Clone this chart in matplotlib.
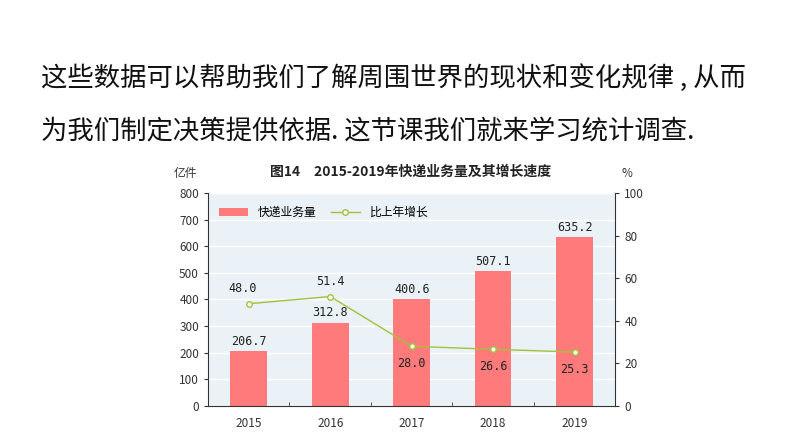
import matplotlib.pyplot as plt
import numpy as np

plt.rcParams['font.family'] = ['Noto Sans CJK SC', 'DejaVu Sans']

years = ['2015', '2016', '2017', '2018', '2019']
volume = [206.7, 312.8, 400.6, 507.1, 635.2]   # 亿件
growth = [48.0, 51.4, 28.0, 26.6, 25.3]        # %
line1 = '这些数据可以帮助我们了解周围世界的现状和变化规律 , 从而'
line2 = '为我们制定决策提供依据. 这节课我们就来学习统计调查.'

bar_color = '#ff7b7b'
line_color = '#a2c23a'

fig = plt.figure(figsize=(7.94, 4.47), dpi=100)
fig.patch.set_facecolor('white')

# heading text above the chart
fig.text(0.052, 0.825, line1, fontsize=19, color='#111111', va='center')
fig.text(0.052, 0.708, line2, fontsize=19, color='#111111', va='center')

ax = fig.add_axes([0.262, 0.092, 0.513, 0.476])
ax.set_facecolor('#eaf2f7')
x = np.arange(len(years))

bars = ax.bar(x, volume, width=0.45, color=bar_color, zorder=2, label='快递业务量')
ax.set_ylim(0, 800)
ax.set_xlim(-0.5, len(years) - 0.5)
ax.set_yticks(range(0, 801, 100))
ax.yaxis.grid(True, color='white', linewidth=1, zorder=0)
ax.set_axisbelow(True)
ax.tick_params(axis='y', labelsize=8.5, length=3, colors='#333333')
ax.set_xticks(x)
ax.set_xticklabels(years)
ax.tick_params(axis='x', labelsize=8.5, length=0, pad=8, colors='#333333')
# small inward ticks between categories
ax.set_xticks(np.arange(0.5, len(years) - 0.5, 1), minor=True)
ax.tick_params(axis='x', which='minor', direction='in', length=3, color='#333333')
for s in ['top', 'right']:
    ax.spines[s].set_visible(False)
for s in ['left', 'bottom']:
    ax.spines[s].set_color('#333333')

for xi, v in zip(x, volume):
    ax.text(xi, v + 12, f'{v:.1f}', ha='center', va='bottom', fontsize=8.5,
            family='DejaVu Sans Mono', color='#222222')

ax2 = ax.twinx()
ax2.set_ylim(0, 100)
ax2.set_yticks(range(0, 101, 20))
ax2.plot(x, growth, color=line_color, linewidth=1, marker='o', markersize=4,
         markerfacecolor='white', markeredgecolor=line_color, label='比上年增长', zorder=3)
ax2.tick_params(axis='y', labelsize=8.5, length=3, colors='#333333')
for s in ['top', 'left', 'bottom']:
    ax2.spines[s].set_visible(False)
ax2.spines['right'].set_color('#333333')

for i, (xi, g) in enumerate(zip(x, growth)):
    if i < 2:
        ax2.text(xi - 0.08 if i == 0 else xi, g + 4, f'{g:.1f}', ha='center', va='bottom',
                 fontsize=8.5, family='DejaVu Sans Mono', color='#222222')
    else:
        ax2.text(xi, g - 5, f'{g:.1f}', ha='center', va='top',
                 fontsize=8.5, family='DejaVu Sans Mono', color='#222222')

h1, l1 = ax.get_legend_handles_labels()
h2, l2 = ax2.get_legend_handles_labels()
ax.legend(h1 + h2, l1 + l2, loc='upper left', ncol=2, frameon=False, fontsize=8.5,
          bbox_to_anchor=(0.0, 0.99), handlelength=2.5, columnspacing=1.2)

fig.text(0.517, 0.617, '图14　2015-2019年快递业务量及其增长速度', ha='center', va='center',
         fontsize=10, fontweight='bold', color='#222222')
fig.text(0.233, 0.612, '亿件', ha='center', va='center', fontsize=8.5, color='#333333')
fig.text(0.790, 0.612, '%', ha='center', va='center', fontsize=8.5, color='#333333')

fig.savefig('out.png', dpi=100)
